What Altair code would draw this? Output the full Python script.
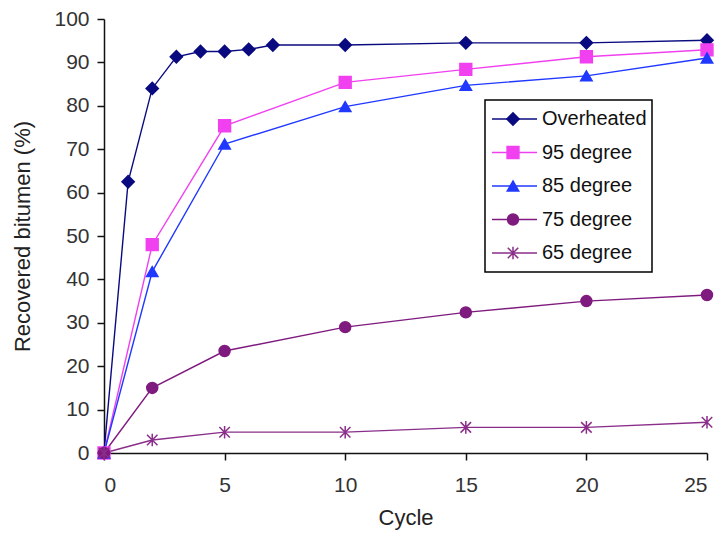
import altair as alt
import pandas as pd

series = ["Overheated", "95 degree", "85 degree", "75 degree", "65 degree"]
colors = ["#0a0a80", "#f040f0", "#2038ff", "#7f1a7f", "#8a2e8a"]
shapes = ["diamond", "square", "triangle-up", "circle", "M-1,-1L1,1M-1,1L1,-1M0,-1.2L0,1.2"]

cycles_overheated = [0, 1, 2, 3, 4, 5, 6, 7, 10, 15, 20, 25]
overheated = [0, 62.5, 84, 91.3, 92.5, 92.5, 93, 94, 94, 94.5, 94.5, 95.1]

cycles_other = [0, 2, 5, 10, 15, 20, 25]
deg95 = [0, 48, 75.4, 85.4, 88.4, 91.3, 92.9]
deg85 = [0, 41.8, 71.2, 79.8, 84.7, 86.9, 91]
deg75 = [0, 15, 23.5, 29, 32.4, 35, 36.4]
deg65 = [0, 3, 4.8, 4.8, 5.9, 5.9, 7.1]

rows = []
for c, v in zip(cycles_overheated, overheated):
    rows.append({"series": series[0], "cycle": c, "value": v})
for name, vals in zip(series[1:], [deg95, deg85, deg75, deg65]):
    for c, v in zip(cycles_other, vals):
        rows.append({"series": name, "cycle": c, "value": v})
df = pd.DataFrame(rows)
df["order"] = df["series"].map({s: i for i, s in enumerate(series)})

legend_df = pd.DataFrame({"series": series})
box_df = pd.DataFrame({"k": [0]})

FONT = "Liberation Sans"
W, H = 603, 434

color_scale = alt.Scale(domain=series, range=colors)
shape_scale = alt.Scale(domain=series, range=shapes)
size_scale = alt.Scale(domain=series, range=[150, 110, 120, 130, 110])

x_enc = alt.X("cycle:Q", title="Cycle",
              scale=alt.Scale(domain=[0, 25], nice=False, zero=True),
              axis=alt.Axis(values=[0, 5, 10, 15, 20, 25], format="d", grid=False,
                            titleY=71, titleX=W / 2, titleBaseline="alphabetic",
                            labelPadding=14))
y_enc = alt.Y("value:Q", title="Recovered bitumen (%)",
              scale=alt.Scale(domain=[0, 100], nice=False),
              axis=alt.Axis(values=list(range(0, 101, 10)), grid=False,
                            titleX=-82, titleY=H / 2, titleAngle=-90,
                            titleBaseline="middle", titleAlign="center",
                            labelPadding=8))

lines = alt.Chart(df).mark_line(strokeWidth=1.4).encode(
    x=x_enc, y=y_enc,
    color=alt.Color("series:N", scale=color_scale, legend=None),
    detail="series:N",
    order=alt.Order("cycle:Q"),
)
points = alt.Chart(df).mark_point(filled=True, opacity=1, strokeWidth=1.5).encode(
    x="cycle:Q", y="value:Q",
    fill=alt.Fill("series:N", scale=color_scale, legend=None),
    stroke=alt.Stroke("series:N", scale=color_scale, legend=None),
    shape=alt.Shape("series:N", scale=shape_scale, legend=None),
    size=alt.Size("series:N", scale=size_scale, legend=None),
    order=alt.Order("order:Q"),
)
main = alt.layer(lines, points)

leg_y = alt.Y("series:N", scale=alt.Scale(domain=series, range=[100, 234], type="point", padding=0), axis=None)

box = alt.Chart(box_df).mark_rect(fill="white", stroke="black", strokeWidth=1.5).encode(
    x=alt.value(381), x2=alt.value(548), y=alt.value(81), y2=alt.value(253)
)
leg_lines = alt.Chart(legend_df).mark_rule(strokeWidth=1.5).encode(
    x=alt.value(388), x2=alt.value(433), y=leg_y,
    color=alt.Color("series:N", scale=color_scale, legend=None),
)
leg_points = alt.Chart(legend_df).mark_point(filled=True, opacity=1, strokeWidth=1.5).encode(
    x=alt.value(409), y=leg_y,
    fill=alt.Fill("series:N", scale=color_scale, legend=None),
    stroke=alt.Stroke("series:N", scale=color_scale, legend=None),
    shape=alt.Shape("series:N", scale=shape_scale, legend=None),
    size=alt.Size("series:N", scale=size_scale, legend=None),
)
leg_text = alt.Chart(legend_df).mark_text(align="left", baseline="middle", font=FONT,
                                          fontSize=20, color="#111").encode(
    x=alt.value(438), y=leg_y, text="series:N"
)
legend = alt.layer(box, leg_lines, leg_points, leg_text)

chart = alt.layer(main, legend).resolve_scale(y="independent").properties(
    width=W, height=H,
    autosize=alt.AutoSizeParams(type="none"),
    padding={"left": 96, "top": 11, "right": 8, "bottom": 77},
).configure_view(stroke=None).configure_axis(
    labelFont=FONT, titleFont=FONT, labelFontSize=21, titleFontSize=22,
    labelColor="#333", titleColor="#222", titleFontWeight="normal",
    domainColor="#111", tickColor="#111", domainWidth=1.5, tickWidth=1.5, tickSize=7,
)

chart.save("out.html", embed_options={"renderer": "svg", "actions": False})
